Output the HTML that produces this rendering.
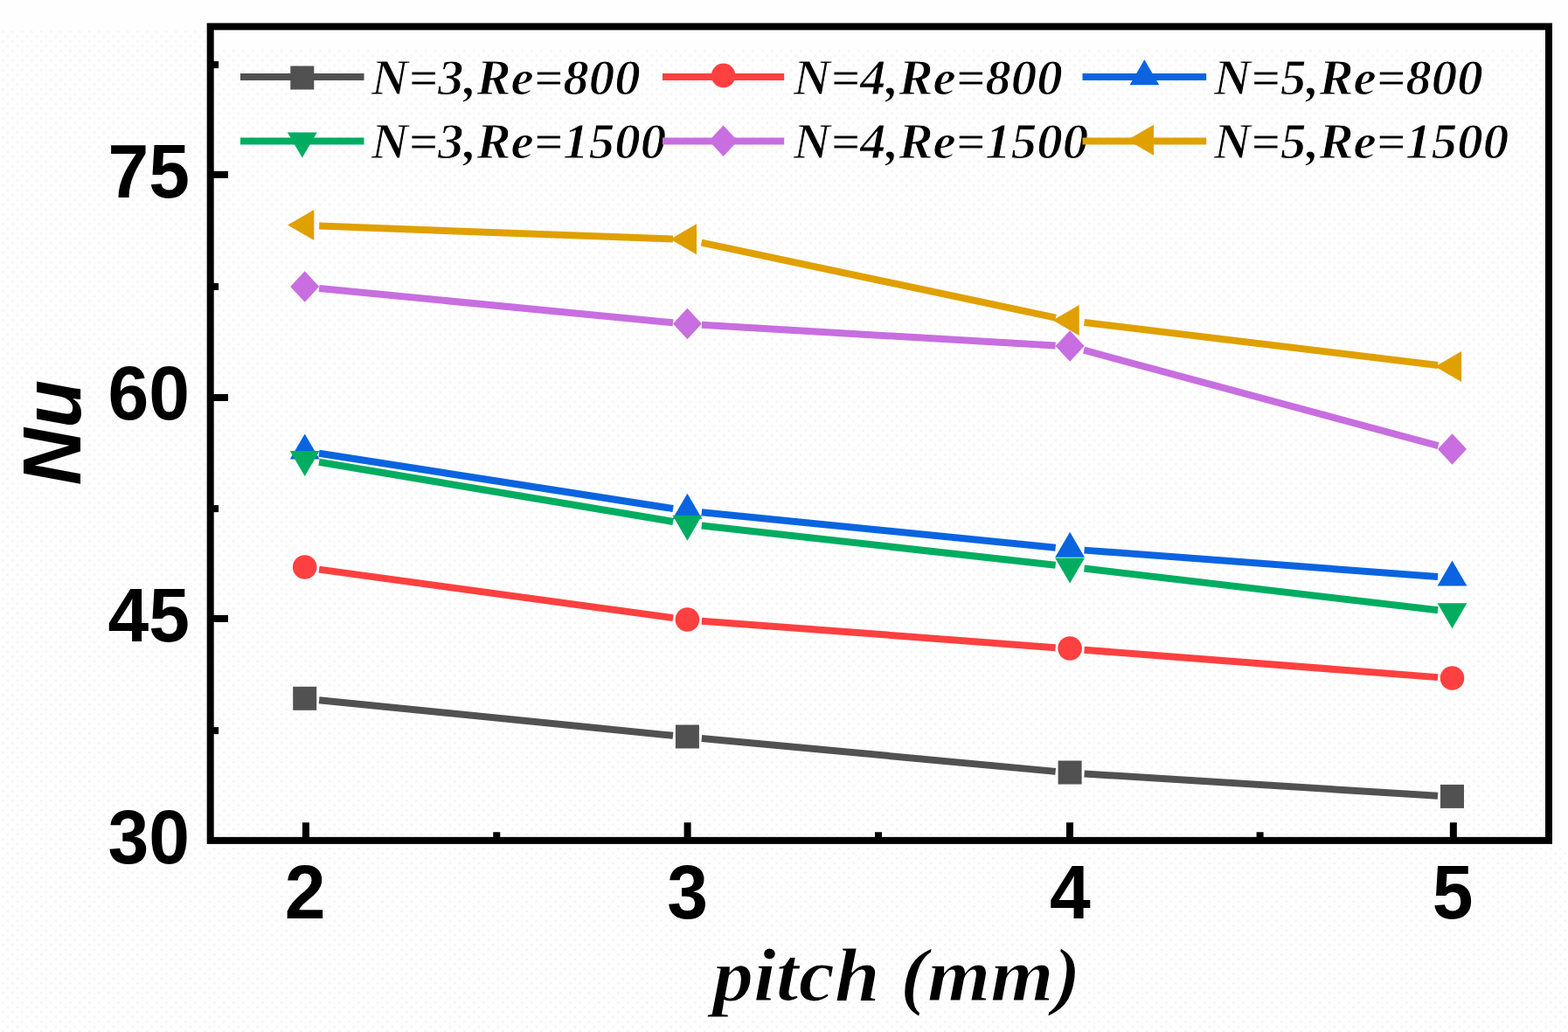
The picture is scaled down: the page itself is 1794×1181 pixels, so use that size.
<!DOCTYPE html>
<html lang="en"><head><meta charset="utf-8"><title>Nu vs pitch</title>
<style>
html,body{margin:0;padding:0;background:#fff;}
body{width:1794px;height:1181px;overflow:hidden;}
svg{display:block;}
.tk{font-family:"Liberation Sans",Arial,Helvetica,sans-serif;font-weight:700;font-size:84px;fill:#000;}
.yl{font-family:"Liberation Sans",Arial,Helvetica,sans-serif;font-weight:700;font-style:italic;font-size:92px;fill:#000;}
.xl{font-family:"Liberation Serif","Times New Roman",Times,serif;font-weight:700;font-style:italic;font-size:93px;fill:#000;stroke:#fefefe;stroke-width:1.3px;}
.lg{font-family:"Liberation Serif","Times New Roman",Times,serif;font-weight:700;font-style:italic;font-size:59px;fill:#000;stroke:#fefefe;stroke-width:1px;}
</style></head><body>
<svg width="1794" height="1181" viewBox="0 0 1794 1181">
<defs><pattern id="dots" x="0" y="0" width="11" height="11" patternUnits="userSpaceOnUse"><rect x="2" y="2" width="2.6" height="2.6" fill="#f5f5f5"/><rect x="7.5" y="7.5" width="2.6" height="2.6" fill="#f5f5f5"/></pattern></defs>
<rect x="0" y="0" width="1794" height="1181" fill="#fefefe"/>
<rect x="0" y="34" width="236" height="1147" fill="url(#dots)"/>
<rect x="245" y="55" width="1523" height="903" fill="url(#dots)"/>
<rect x="236" y="970" width="1558" height="211" fill="url(#dots)"/>
<g fill="none" stroke-width="8" stroke-linecap="butt">
<line x1="365.12" y1="801.34" x2="769.98" y2="841.76" stroke="#515151"/>
<line x1="802.83" y1="844.94" x2="1207.67" y2="882.86" stroke="#515151"/>
<line x1="1240.57" y1="885.43" x2="1645.03" y2="910.77" stroke="#515151"/>
<line x1="365.05" y1="651.64" x2="770.05" y2="707.16" stroke="#ff4040"/>
<line x1="802.85" y1="710.64" x2="1207.65" y2="741.16" stroke="#ff4040"/>
<line x1="1240.55" y1="743.68" x2="1645.05" y2="775.12" stroke="#ff4040"/>
<line x1="365.00" y1="518.75" x2="770.10" y2="582.05" stroke="#0a64e0"/>
<line x1="802.82" y1="586.24" x2="1207.68" y2="626.76" stroke="#0a64e0"/>
<line x1="1240.55" y1="629.63" x2="1645.05" y2="659.97" stroke="#0a64e0"/>
<line x1="364.97" y1="528.74" x2="770.13" y2="596.96" stroke="#00ad60"/>
<line x1="802.80" y1="601.53" x2="1207.70" y2="646.77" stroke="#00ad60"/>
<line x1="1240.49" y1="650.53" x2="1645.11" y2="698.27" stroke="#00ad60"/>
<line x1="365.12" y1="329.99" x2="769.98" y2="369.31" stroke="#c86ee0"/>
<line x1="802.87" y1="371.86" x2="1207.63" y2="395.44" stroke="#c86ee0"/>
<line x1="1240.03" y1="400.70" x2="1645.57" y2="510.10" stroke="#c86ee0"/>
<line x1="365.19" y1="258.61" x2="769.91" y2="273.59" stroke="#e0a000"/>
<line x1="802.54" y1="277.62" x2="1207.96" y2="363.58" stroke="#e0a000"/>
<line x1="1240.48" y1="368.98" x2="1645.12" y2="418.02" stroke="#e0a000"/>
</g>
<g>
<rect x="335.20" y="785.80" width="27.0" height="27.0" fill="#515151"/>
<rect x="772.90" y="829.50" width="27.0" height="27.0" fill="#515151"/>
<rect x="1210.60" y="870.50" width="27.0" height="27.0" fill="#515151"/>
<rect x="1648.00" y="897.90" width="27.0" height="27.0" fill="#515151"/>
<circle cx="348.70" cy="649.00" r="13.8" fill="#ff4040"/>
<circle cx="786.40" cy="709.00" r="13.8" fill="#ff4040"/>
<circle cx="1224.10" cy="742.00" r="13.8" fill="#ff4040"/>
<circle cx="1661.50" cy="776.00" r="13.8" fill="#ff4040"/>
<polygon points="348.70,496.47 365.60,525.47 331.80,525.47" fill="#0a64e0"/>
<polygon points="786.40,564.87 803.30,593.87 769.50,593.87" fill="#0a64e0"/>
<polygon points="1224.10,608.67 1241.00,637.67 1207.20,637.67" fill="#0a64e0"/>
<polygon points="1661.50,641.47 1678.40,670.47 1644.60,670.47" fill="#0a64e0"/>
<polygon points="348.70,544.93 365.60,515.93 331.80,515.93" fill="#00ad60"/>
<polygon points="786.40,618.63 803.30,589.63 769.50,589.63" fill="#00ad60"/>
<polygon points="1224.10,667.53 1241.00,638.53 1207.20,638.53" fill="#00ad60"/>
<polygon points="1661.50,719.13 1678.40,690.13 1644.60,690.13" fill="#00ad60"/>
<polygon points="348.70,310.20 365.20,328.00 348.70,345.80 332.20,328.00" fill="#c86ee0"/>
<polygon points="786.40,352.70 802.90,370.50 786.40,388.30 769.90,370.50" fill="#c86ee0"/>
<polygon points="1224.10,378.20 1240.60,396.00 1224.10,413.80 1207.60,396.00" fill="#c86ee0"/>
<polygon points="1661.50,496.20 1678.00,514.00 1661.50,531.80 1645.00,514.00" fill="#c86ee0"/>
<polygon points="329.10,257.60 359.30,240.10 359.30,275.10" fill="#e0a000"/>
<polygon points="766.80,273.80 797.00,256.30 797.00,291.30" fill="#e0a000"/>
<polygon points="1204.50,366.60 1234.70,349.10 1234.70,384.10" fill="#e0a000"/>
<polygon points="1641.90,419.60 1672.10,402.10 1672.10,437.10" fill="#e0a000"/>
</g>
<g>
<line x1="275.0" y1="87.9" x2="416.5" y2="87.9" stroke="#515151" stroke-width="8"/>
<rect x="332.30" y="75.50" width="27.0" height="27.0" fill="#515151"/>
<text class="lg" transform="translate(424.8,107.9) scale(1,0.975)">N=3,Re=800</text>
<line x1="758.0" y1="87.9" x2="897.2" y2="87.9" stroke="#ff4040" stroke-width="8"/>
<circle cx="827.60" cy="86.40" r="13.8" fill="#ff4040"/>
<text class="lg" transform="translate(907.8,107.9) scale(1,0.975)">N=4,Re=800</text>
<line x1="1238.5" y1="87.9" x2="1380.2" y2="87.9" stroke="#0a64e0" stroke-width="8"/>
<polygon points="1309.40,68.17 1326.30,97.17 1292.50,97.17" fill="#0a64e0"/>
<text class="lg" transform="translate(1388.7,107.9) scale(1,0.975)">N=5,Re=800</text>
<line x1="275.0" y1="161.6" x2="416.5" y2="161.6" stroke="#00ad60" stroke-width="8"/>
<polygon points="345.80,180.53 362.70,151.53 328.90,151.53" fill="#00ad60"/>
<text class="lg" transform="translate(424.8,181.4) scale(1,0.975)">N=3,Re=1500</text>
<line x1="758.0" y1="161.6" x2="897.2" y2="161.6" stroke="#c86ee0" stroke-width="8"/>
<polygon points="827.60,143.50 844.10,161.30 827.60,179.10 811.10,161.30" fill="#c86ee0"/>
<text class="lg" transform="translate(907.8,181.4) scale(1,0.975)">N=4,Re=1500</text>
<line x1="1238.5" y1="161.6" x2="1380.2" y2="161.6" stroke="#e0a000" stroke-width="8"/>
<polygon points="1289.80,160.30 1320.00,142.80 1320.00,177.80" fill="#e0a000"/>
<text class="lg" transform="translate(1388.7,181.4) scale(1,0.975)">N=5,Re=1500</text>
</g>
<g stroke="#000" stroke-width="8" fill="none" stroke-linecap="butt">
<rect x="240.7" y="30.4" width="1531.3" height="931.45"/>
<line x1="349.95" y1="961.85" x2="349.95" y2="941.25"/>
<line x1="786.60" y1="961.85" x2="786.60" y2="941.25"/>
<line x1="1224.00" y1="961.85" x2="1224.00" y2="941.25"/>
<line x1="1662.85" y1="961.85" x2="1662.85" y2="941.25"/>
<line x1="568.25" y1="961.85" x2="568.25" y2="952.25"/>
<line x1="1005.00" y1="961.85" x2="1005.00" y2="952.25"/>
<line x1="1441.60" y1="961.85" x2="1441.60" y2="952.25"/>
<line x1="240.7" y1="199.85" x2="261.0" y2="199.85"/>
<line x1="240.7" y1="455.00" x2="261.0" y2="455.00"/>
<line x1="240.7" y1="707.90" x2="261.0" y2="707.90"/>
<line x1="240.7" y1="74.10" x2="250.1" y2="74.10"/>
<line x1="240.7" y1="328.05" x2="250.1" y2="328.05"/>
<line x1="240.7" y1="582.10" x2="250.1" y2="582.10"/>
<line x1="240.7" y1="836.10" x2="250.1" y2="836.10"/>
</g>
<g class="tk">
<text transform="translate(217,987.85) scale(1,1.04)" text-anchor="end">30</text>
<text transform="translate(217,733.85) scale(1,1.04)" text-anchor="end">45</text>
<text transform="translate(217,480.40) scale(1,1.04)" text-anchor="end">60</text>
<text transform="translate(217,225.85) scale(1,1.04)" text-anchor="end">75</text>
<text transform="translate(349.00,1050.7) scale(1,1.04)" text-anchor="middle">2</text>
<text transform="translate(786.67,1050.7) scale(1,1.04)" text-anchor="middle">3</text>
<text transform="translate(1224.33,1050.7) scale(1,1.04)" text-anchor="middle">4</text>
<text transform="translate(1662.00,1050.7) scale(1,1.04)" text-anchor="middle">5</text>
</g>
<text class="yl" transform="translate(91.7,555.2) rotate(-90) scale(0.978,1.03)" letter-spacing="0.5">Nu</text>
<text class="xl" transform="translate(815.5,1145) scale(1,0.94)">pitch (mm)</text>
</svg></body></html>
